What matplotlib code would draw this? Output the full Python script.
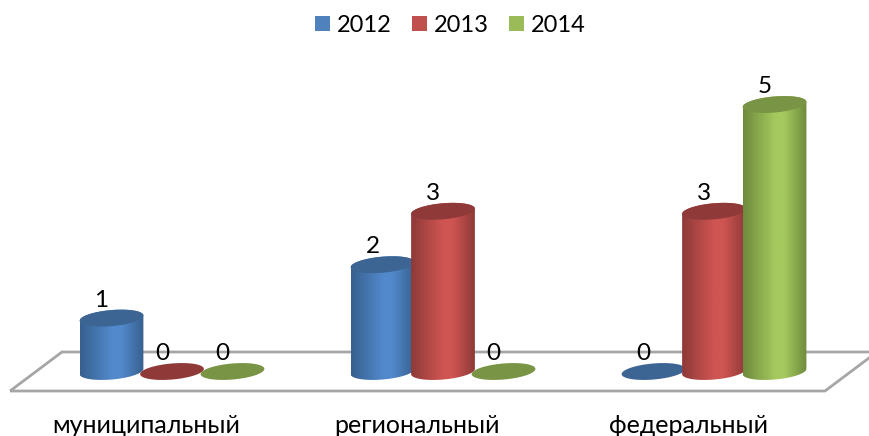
import numpy as np
import matplotlib
matplotlib.use('Agg')
import matplotlib.pyplot as plt
from matplotlib.colors import LinearSegmentedColormap
from matplotlib.patches import Patch, Polygon

plt.rcParams['font.family'] = ['Lato', 'Open Sans', 'DejaVu Sans']

categories = ['муниципальный', 'региональный', 'федеральный']
years = ['2012', '2013', '2014']
values_2012 = [1, 2, 0]
values_2013 = [0, 3, 3]
values_2014 = [0, 0, 5]
series = [values_2012, values_2013, values_2014]

flat_colors = ['#4f81bd', '#c0504d', '#9bbb59']
edge_colors = ['#37608f', '#8e3a38', '#6e8a3c']
mid_colors = ['#5289cc', '#cf5552', '#a5c95e']
top_colors = ['#3c6594', '#8f3a38', '#7a9445']

W, H = 869, 436
x_unit = 271.0   # pixels per category
y_unit = 53.4    # pixels per value
x0_px = 172.0    # centre of the first group
y0_px = 64.5     # value 0, from the bottom
bar_step = 60.5 / x_unit
rx, ry = 32.0, 8.0
tilt = np.radians(5)

fig = plt.figure(figsize=(W / 100, H / 100), dpi=100)
ax = fig.add_axes([0, 0, 1, 1])
ax.set_xlim(-x0_px / x_unit, (W - x0_px) / x_unit)
ax.set_ylim(-y0_px / y_unit, (H - y0_px) / y_unit)
ax.axis('off')


def ellipse(cx, cy, start=0.0, end=2 * np.pi):
    a = np.linspace(start, end, 80)
    ex = rx * np.cos(a) * np.cos(tilt) - ry * np.sin(a) * np.sin(tilt)
    ey = rx * np.cos(a) * np.sin(tilt) + ry * np.sin(a) * np.cos(tilt)
    return np.column_stack([cx + ex / x_unit, cy + ey / y_unit])


# floor
floor_y = [-19.5 / y_unit, 19.5 / y_unit]
floor_x = [(10 - x0_px) / x_unit, (825 - x0_px) / x_unit, (877 - x0_px) / x_unit, (62 - x0_px) / x_unit]
ax.add_patch(Polygon([(floor_x[0], floor_y[0]), (floor_x[1], floor_y[0]),
                      (floor_x[2], floor_y[1]), (floor_x[3], floor_y[1])],
                     closed=True, fill=False, edgecolor='#a6a6a6', lw=2, zorder=1))

z = 2
for g in range(len(categories)):
    for s in range(len(years)):
        v = series[s][g]
        cx = g + (s - 1) * bar_step
        if v > 0:
            top_half = ellipse(cx, v, 0, np.pi)
            bottom_half = ellipse(cx, 0, np.pi, 2 * np.pi)
            body = Polygon(np.vstack([top_half, bottom_half]), closed=True,
                           facecolor='none', edgecolor='none', transform=ax.transData)
            ax.add_patch(body)
            cmap = LinearSegmentedColormap.from_list(
                'c', [(0, edge_colors[s]), (0.5, mid_colors[s]), (0.65, mid_colors[s]), (1, edge_colors[s])],
                N=256)
            shade = np.linspace(0, 1, 128)[None, :]
            ext = [cx - rx / x_unit, cx + rx / x_unit, -ry * 1.2 / y_unit, v + ry * 1.2 / y_unit]
            im = ax.imshow(shade, extent=ext, cmap=cmap, aspect='auto', zorder=z)
            im.set_clip_path(body)
            ax.set_xlim(-x0_px / x_unit, (W - x0_px) / x_unit)
            ax.set_ylim(-y0_px / y_unit, (H - y0_px) / y_unit)
        ax.add_patch(Polygon(ellipse(cx, v), closed=True, facecolor=top_colors[s],
                             edgecolor='none', zorder=z + 0.5))
        z += 1
        ax.text(cx - 10 / x_unit, v + 18 / y_unit, str(v), ha='center', va='center',
                fontsize=17.5, color='black', zorder=50)

# category labels sit left of the group centres
for g, name in enumerate(categories):
    ax.text(g - 26 / x_unit, -54 / y_unit, name, ha='center', va='center',
            fontsize=18, color='black')

handles = [Patch(facecolor=c, edgecolor='none', label=y) for c, y in zip(flat_colors, years)]
fig.legend(handles=handles, loc='upper center', bbox_to_anchor=(0.518, 1.015), ncols=3, frameon=False,
           fontsize=17, handlelength=0.64, handleheight=0.64, handletextpad=0.29, columnspacing=0.86)

fig.savefig('out.png', dpi=100)
